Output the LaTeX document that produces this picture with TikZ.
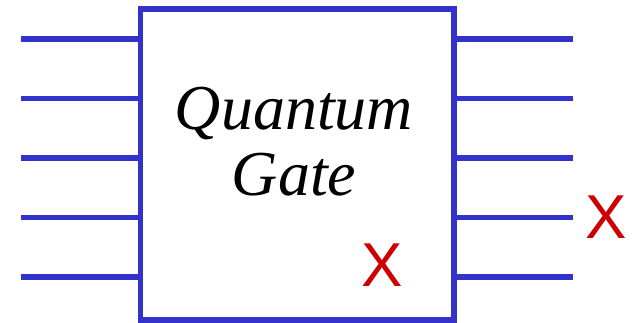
\documentclass[tikz,border=0pt]{standalone}
\usepackage{fontspec}
\setmainfont{Liberation Serif}
\setsansfont{Liberation Sans}
\usetikzlibrary{positioning}
\definecolor{wireblue}{RGB}{51,51,204}
\definecolor{markred}{RGB}{204,0,0}

\begin{document}
\begin{tikzpicture}[x=1pt,y=-1pt,
 wire/.style={draw=wireblue,line width=5.5pt},
 xmark/.style={text=markred,font=\sffamily\fontsize{62}{62}\selectfont,inner sep=0pt}]
    \useasboundingbox (0,0) rectangle (633,323);
    \node[wire,minimum width=313.5pt,minimum height=311pt,inner sep=0pt] (gate)
        at (297.25,164.5) {};
    \node[font=\rmfamily\itshape\fontsize{64}{66}\selectfont,align=center] (label)
        at (294,142) {Quantum\\Gate};
    \foreach \y [count=\i] in {39,98.5,158,217.5,277} {
        \coordinate (in\i) at (21,\y);
        \coordinate (out\i) at (573,\y);
        \draw[wire] (in\i) -- (gate.west |- in\i);
        \draw[wire] (gate.east |- out\i) -- (out\i);
    }
    \node[xmark] (xin) at (382,265.5) {X};
    \node[xmark,right=12pt of out4] (xout) {X};
\end{tikzpicture}
\end{document}
